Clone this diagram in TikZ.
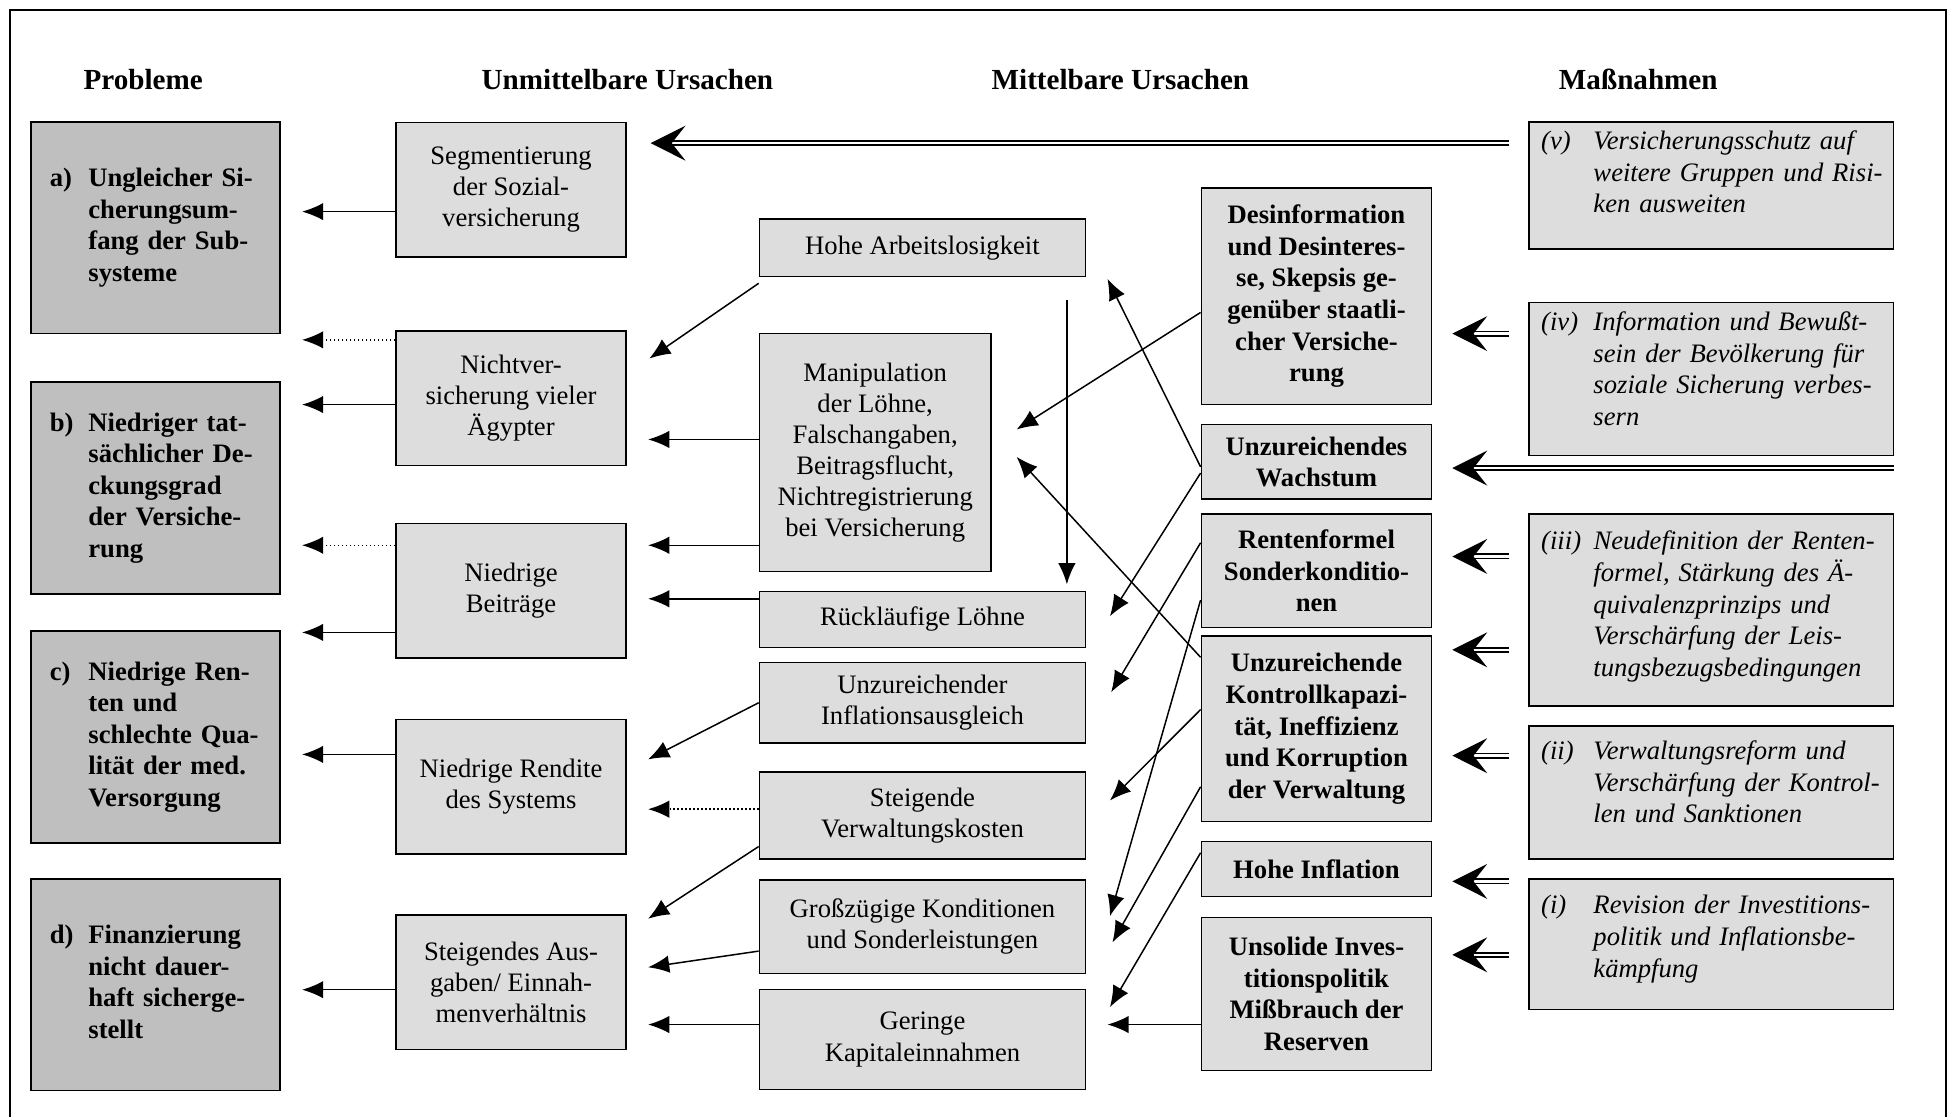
\documentclass[tikz,border=0pt]{standalone}
\usepackage{fontspec}
\setmainfont{Liberation Serif}
\usepackage{tikz}
\usetikzlibrary{arrows.meta,calc}
\usepackage{xcolor}
\definecolor{dunkel}{gray}{0.75}
\definecolor{hell}{gray}{0.865}
\newcommand{\unten}[1]{\rule[-#1]{0pt}{0pt}}

\begin{document}
\begin{tikzpicture}[x=0.5pt,y=-0.5pt,
					prob/.style={draw, fill=dunkel, line width=0.6pt, minimum width=100pt, minimum height=85pt, inner xsep=7.5pt, text width=85pt, align=left, font=\fontsize{10.7}{12.7}\selectfont\bfseries},
					unm/.style={draw, fill=hell, line width=0.6pt, minimum width=92.5pt, minimum height=54pt, align=center, font=\fontsize{10.7}{12.5}\selectfont},
					mit/.style={draw, fill=hell, line width=0.6pt, minimum width=131pt, align=center, font=\fontsize{10.7}{12.5}\selectfont},
					urs/.style={draw, fill=hell, line width=0.6pt, minimum width=92.5pt, align=center, font=\fontsize{10.7}{12.7}\selectfont\bfseries},
					mass/.style={draw, fill=hell, line width=0.6pt, minimum width=146.5pt, inner xsep=5pt, inner ysep=0pt, text width=136.5pt, align=left, font=\fontsize{10.7}{12.7}\selectfont\itshape},
					head/.style={font=\fontsize{11.7}{14}\selectfont\bfseries},
					arr/.style={line width=0.6pt, -{Latex[length=8.5pt,width=7pt]}},
					gap/.style={shorten >=8.5pt},
					dbl/.style={double, double distance=1pt, line width=0.7pt, -{Stealth[length=14pt,width=14pt,inset=5.5pt]}, shorten <=7.5pt, shorten >=8pt}]
    \useasboundingbox (0,0) rectangle (1568,897);
    \draw[line width=0.6pt] (8,897) -- (8,8) -- (1563,8) -- (1563,897);
    % Place nodes
    \node[head] (h1) at (115,64) {Probleme};
    \node[head] (h2) at (504,64) {Unmittelbare Ursachen};
    \node[head] (h3) at (900,64) {Mittelbare Ursachen};
    \node[head] (h4) at (1316,64) {Maßnahmen};

    \node[prob] (Pa) at (125,183) {\begin{tabular}{@{}p{15.5pt}@{}l@{}}a) & Ungleicher Si-\\ & cherungsum-\\ & fang der Sub-\\ & systeme\end{tabular}};
    \node[prob] (Pb) at (125,392) {\begin{tabular}{@{}p{15.5pt}@{}l@{}}b) & Niedriger tat-\\ & sächlicher De-\\ & ckungsgrad\\ & der Versiche-\\ & rung\end{tabular}};
    \node[prob] (Pc) at (125,592) {\begin{tabular}{@{}p{15.5pt}@{}l@{}}c) & Niedrige Ren-\\ & ten und\\ & schlechte Qua-\\ & lität der med.\\ & Versorgung\end{tabular}};
    \node[prob] (Pd) at (125,791) {\begin{tabular}{@{}p{15.5pt}@{}l@{}}d) & Finanzierung\\ & nicht dauer-\\ & haft sicherge-\\ & stellt\end{tabular}};

    \node[unm] (U1) at (410.5,152.5) {Segmentierung\\der Sozial-\\versicherung};
    \node[unm] (U2) at (410.5,320) {Nichtver-\\sicherung vieler\\Ägypter};
    \node[unm] (U3) at (410.5,474.5) {Niedrige\\Beiträge};
    \node[unm] (U4) at (410.5,632) {Niedrige Rendite\\des Systems};
    \node[unm] (U5) at (410.5,789) {Steigendes Aus-\\gaben/ Einnah-\\menverhältnis};

    \node[mit, minimum height=23pt] (M1) at (741,199) {Hohe Arbeitslosigkeit};
    \node[mit, minimum width=93pt, minimum height=95.5pt] (M2) at (703,363.5) {Manipulation\\der Löhne,\\Falschangaben,\\Beitragsflucht,\\Nichtregistrierung\\bei Versicherung};
    \node[mit, minimum height=22.5pt] (M3) at (741,497.5) {Rückläufige Löhne};
    \node[mit, minimum height=32.5pt] (M4) at (741,564.5) {Unzureichender\\Inflationsausgleich};
    \node[mit, minimum height=35pt] (M5) at (741,655) {Steigende\\Verwaltungskosten};
    \node[mit, minimum height=37.5pt] (M6) at (741,744.5) {Großzügige Konditionen\\und Sonderleistungen};
    \node[mit, minimum height=40pt] (M7) at (741,835) {Geringe\\Kapitaleinnahmen};

    \node[urs, minimum height=87pt] (R1) at (1057.5,238) {Desinformation\\und Desinteres-\\se, Skepsis ge-\\genüber staatli-\\cher Versiche-\\rung};
    \node[urs, minimum height=30pt] (R2) at (1057.5,371) {Unzureichendes\\Wachstum};
    \node[urs, minimum height=45.5pt] (R3) at (1057.5,458.5) {Rentenformel\\Sonderkonditio-\\nen};
    \node[urs, minimum height=74.5pt] (R4) at (1057.5,585.5) {Unzureichende\\Kontrollkapazi-\\tät, Ineffizienz\\und Korruption\\der Verwaltung};
    \node[urs, minimum height=22pt] (R5) at (1057.5,698) {Hohe Inflation};
    \node[urs, minimum height=61.5pt] (R6) at (1057.5,798.5) {Unsolide Inves-\\titionspolitik\\Mißbrauch der\\Reserven};

    \node[mass, minimum height=51pt] (Mv) at (1374.5,149) {\begin{tabular}{@{}p{21pt}@{}l@{}}(v) & Versicherungsschutz auf\\ & weitere Gruppen und Risi-\\ & ken ausweiten\unten{12.3pt}\end{tabular}};
    \node[mass, minimum height=61.5pt] (Miv) at (1374.5,304.5) {\begin{tabular}{@{}p{21pt}@{}l@{}}(iv) & Information und Bewußt-\\ & sein der Bevölkerung für\\ & soziale Sicherung verbes-\\ & sern\unten{9.8pt}\end{tabular}};
    \node[mass, minimum height=77pt] (Miii) at (1374.5,490) {\begin{tabular}{@{}p{21pt}@{}l@{}}(iii) & Neudefinition der Renten-\\ & formel, Stärkung des Ä-\\ & quivalenzprinzips und\\ & Verschärfung der Leis-\\ & tungsbezugsbedingungen\unten{6.3pt}\end{tabular}};
    \node[mass, minimum height=53.5pt] (Mii) at (1374.5,636.5) {\begin{tabular}{@{}p{21pt}@{}l@{}}(ii) & Verwaltungsreform und\\ & Verschärfung der Kontrol-\\ & len und Sanktionen\unten{9.8pt}\end{tabular}};
    \node[mass, minimum height=52.5pt] (Mi) at (1374.5,758.5) {\begin{tabular}{@{}p{21pt}@{}l@{}}(i) & Revision der Investitions-\\ & politik und Inflationsbe-\\ & kämpfung\unten{7.8pt}\end{tabular}};
    \coordinate (mr) at (Miv.east |- 0,376);

    % Draw edges
    \draw[arr,gap] (U1.west |- 0,170) -- (Pa.east |- 0,170);
    \draw[arr,gap,densely dotted] (U2.west |- 0,273) -- (Pa.east |- 0,273);
    \draw[arr,gap] (U2.west |- 0,325) -- (Pb.east |- 0,325);
    \draw[arr,gap,densely dotted] (U3.west |- 0,438) -- (Pb.east |- 0,438);
    \draw[arr,gap] (U3.west |- 0,508) -- (Pc.east |- 0,508);
    \draw[arr,gap] (U4.west |- 0,606) -- (Pc.east |- 0,606);
    \draw[arr,gap] (U5.west |- 0,795) -- (Pd.east |- 0,795);

    \draw[arr] ($(M1.south west)+(0,5)$) -- ($(U2.east)+(18,-32)$);
    \draw[arr,gap] (M2.west |- 0,353) -- (U2.east |- 0,353);
    \draw[arr,gap] (M2.west |- 0,438) -- (U3.east |- 0,438);
    \draw[arr,gap] (M3.west |- 0,481) -- (U3.east |- 0,481);
    \draw[arr] (M4.west) -- ($(U4.east)+(17,-22)$);
    \draw[arr,gap,densely dotted] (M5.west |- 0,650) -- (U4.east |- 0,650);
    \draw[arr] ($(M5.west)+(0,25)$) -- ($(U5.east)+(17,-51)$);
    \draw[arr] ($(M6.west)+(0,19.5)$) -- ($(U5.east)+(17,-12)$);
    \draw[arr,gap] (M7.west |- 0,823) -- (U5.east |- 0,823);
    \draw[arr, shorten <=9pt, shorten >=2.5pt] ([xshift=58pt]M1.south) -- ([xshift=58pt]M3.north);

    \draw[arr] ($(R1.west)+(0,13)$) -- ($(M2.east)+(20,-18.5)$);
    \draw[arr] ($(R4.west)+(0,-57.5)$) -- ($(M2.east)+(20,3.5)$);
    \draw[arr] ($(R2.west)+(0,4)$) -- ($(M1.east)+(17,25)$);
    \draw[arr] ($(R2.west)+(0,9)$) -- ($(M3.east)+(19,-2.5)$);
    \draw[arr] ($(R3.west)+(0,-22.5)$) -- ($(M4.east)+(20,-8.5)$);
    \draw[arr] ($(R3.west)+(0,23.5)$) -- ($(M6.east)+(19,-8.5)$);
    \draw[arr] ($(R4.west)+(0,-15.5)$) -- ($(M5.east)+(19,-12)$);
    \draw[arr] ($(R4.west)+(0,46.5)$) -- ($(M6.east)+(21,12.5)$);
    \draw[arr] ($(R5.west)+(0,-13)$) -- ($(M7.east)+(19,-26)$);
    \draw[arr,gap] (R6.west |- 0,823) -- (M7.east |- 0,823);

    \draw[dbl, shorten >=9.5pt] (Mv.west |- 0,115) -- (U1.east |- 0,115);
    \draw[dbl] (Miv.west |- 0,268) -- (R1.east |- 0,268);
    \draw[dbl, shorten <=0pt] (mr) -- (R2.east |- mr);
    \draw[dbl] (Miii.west |- 0,447) -- (R3.east |- 0,447);
    \draw[dbl] (Miii.west |- 0,522) -- (R4.east |- 0,522);
    \draw[dbl] (Mii.west |- 0,607) -- (R4.east |- 0,607);
    \draw[dbl] (Mi.west |- 0,708) -- (R5.east |- 0,708);
    \draw[dbl] (Mi.west |- 0,767) -- (R6.east |- 0,767);
\end{tikzpicture}
\end{document}
